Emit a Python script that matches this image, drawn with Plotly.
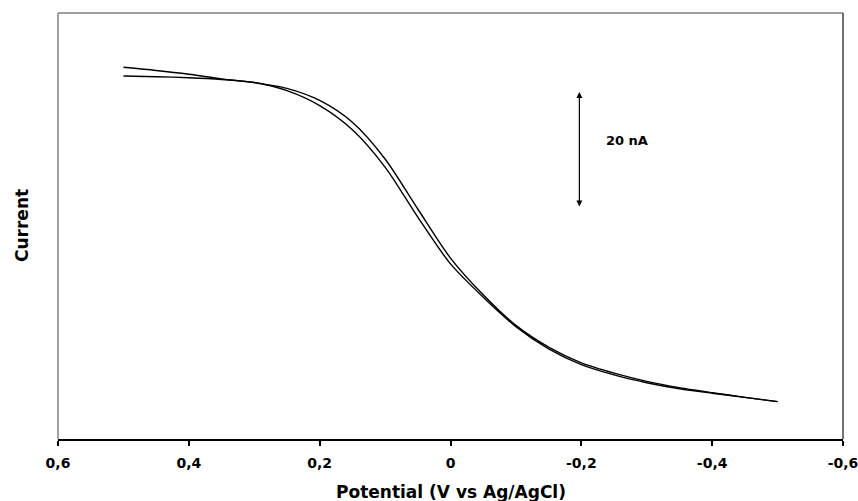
import plotly.graph_objects as go

# Potential (V vs Ag/AgCl)
potential = [0.50, 0.45, 0.40, 0.35, 0.30, 0.25, 0.20, 0.15, 0.10, 0.05, 0.00,
             -0.05, -0.10, -0.15, -0.20, -0.25, -0.30, -0.35, -0.40, -0.45, -0.50]
# Current (nA) – two sweeps
current_sweep1 = [64.04, 63.50, 62.85, 62.05, 61.42, 60.42, 58.34, 54.58, 48.25, 39.63, 31.17,
                  24.84, 19.57, 15.83, 13.11, 11.35, 9.94, 8.85, 7.98, 7.18, 6.43]
current_sweep2 = [62.55, 62.42, 62.25, 61.95, 61.42, 60.02, 57.44, 53.28, 46.85, 38.23, 30.17,
                  24.44, 19.37, 15.53, 12.81, 11.05, 9.70, 8.65, 7.88, 7.18, 6.43]

tick_vals = [0.6, 0.4, 0.2, 0.0, -0.2, -0.4, -0.6]
tick_text = ["0,6", "0,4", "0,2", "0", "-0,2", "-0,4", "-0,6"]

scale_x = -0.197
scale_top = 59.8
scale_bottom = 39.8
scale_label = "20 nA"

FONT = "DejaVu Sans"

fig = go.Figure()
for cur in (current_sweep1, current_sweep2):
    fig.add_trace(go.Scatter(x=potential, y=cur, mode="lines",
                             line=dict(color="black", width=1.4, shape="spline", smoothing=0.8),
                             showlegend=False, hoverinfo="skip"))

fig.update_layout(
    width=858, height=501,
    margin=dict(l=58, r=15, t=13, b=62, pad=0, autoexpand=False),
    plot_bgcolor="white", paper_bgcolor="white",
    xaxis=dict(range=[0.6, -0.6], tickvals=tick_vals, ticktext=tick_text,
               ticks="outside", ticklen=5, tickwidth=2, tickcolor="black",
               ticklabelstandoff=5, ticklabeloverflow="allow", automargin=False,
               showline=True, linecolor="black", linewidth=2, showgrid=False, zeroline=False,
               tickfont=dict(family=FONT, size=14, color="black", weight="bold")),
    yaxis=dict(range=[0, 73.4], showticklabels=False, ticks="", showgrid=False,
               zeroline=False, showline=False, automargin=False),
    shapes=[
        dict(type="line", xref="paper", yref="paper", x0=0, x1=0, y0=0, y1=1,
             line=dict(color="#808080", width=1.5)),
        dict(type="line", xref="paper", yref="paper", x0=0, x1=1, y0=1, y1=1,
             line=dict(color="#808080", width=1.5)),
        dict(type="line", xref="paper", yref="paper", x0=1, x1=1, y0=0, y1=1,
             line=dict(color="#404040", width=1.5)),
    ],
    annotations=[
        dict(x=scale_x, y=scale_top, ax=scale_x, ay=scale_bottom, xref="x", yref="y",
             axref="x", ayref="y", text="", showarrow=True, arrowhead=2, arrowsize=1,
             arrowwidth=1.2, arrowside="end+start", arrowcolor="black"),
        dict(x=scale_x - 0.037, y=(scale_top + scale_bottom) / 2 + 1.7, xref="x", yref="y",
             text=scale_label, showarrow=False, xanchor="left",
             font=dict(family=FONT, size=13, color="black", weight="bold")),
        dict(x=0.5, y=0, xref="paper", yref="paper", yanchor="middle", yshift=-53,
             text="Potential (V vs Ag/AgCl)", showarrow=False,
             font=dict(family=FONT, size=17, color="black", weight="bold")),
        dict(x=0, y=0.5, xref="paper", yref="paper", xanchor="center", xshift=-36,
             text="Current", textangle=-90, showarrow=False,
             font=dict(family=FONT, size=17, color="black", weight="bold")),
    ],
)

fig.write_html("out.html", config={"displayModeBar": False},
               post_script="document.body.style.margin='0';document.body.style.overflow='hidden';")
